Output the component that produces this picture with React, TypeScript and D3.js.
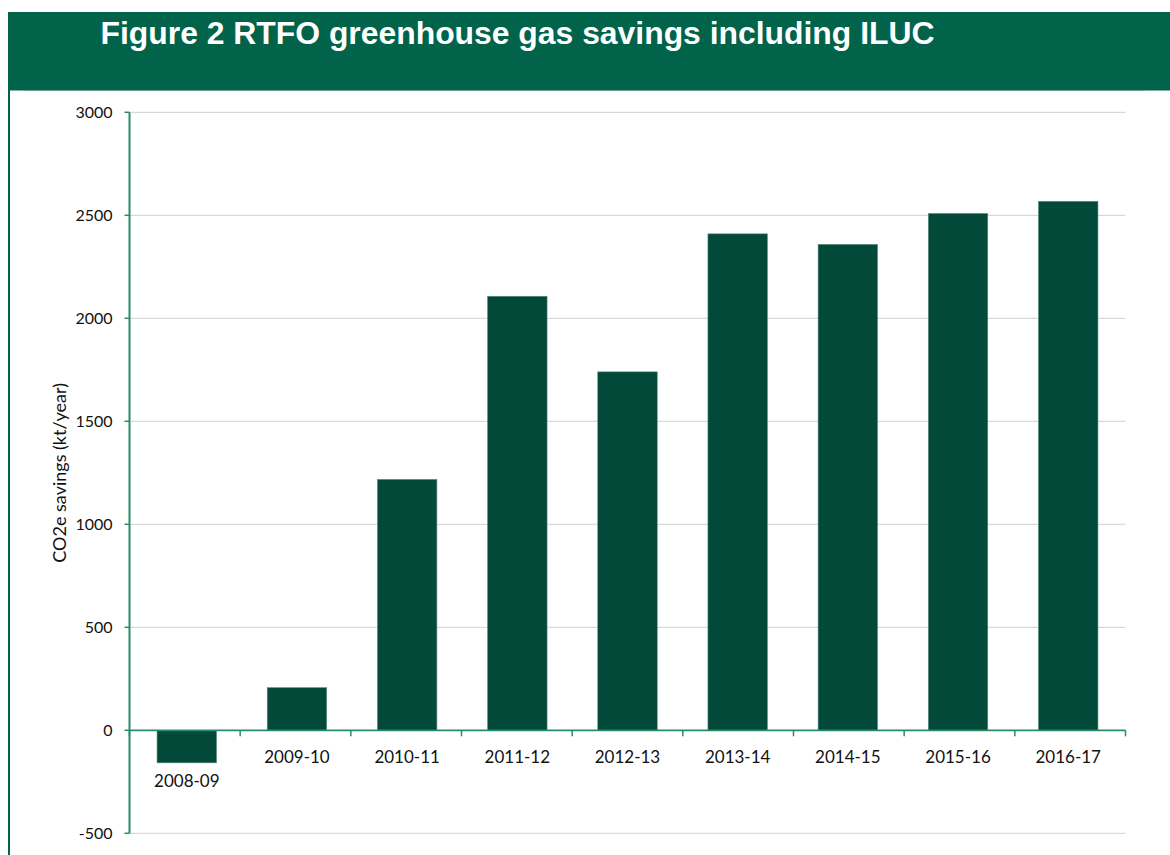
import * as d3 from 'd3';

// RTFO greenhouse gas savings including ILUC, kt CO2e per year
const years = ['2008-09', '2009-10', '2010-11', '2011-12', '2012-13', '2013-14', '2014-15', '2015-16', '2016-17'];
const savings = [-158, 207, 1218, 2107, 1740, 2410, 2359, 2509, 2568];
const yTicks = [-500, 0, 500, 1000, 1500, 2000, 2500, 3000];

const W = 1170;
const H = 855;
const header = '#00634A';
const barFill = '#02493A';
const axisColor = '#2A8A70';
const font = 'Lato, "Open Sans", sans-serif';

export default function App() {
  const left = 129.5;
  const right = 1125.5;

  const x = d3.scaleBand<string>().domain(years).range([left, right]).paddingInner(0.46).paddingOuter(0.25);
  const y = d3.scaleLinear().domain([-500, 3000]).range([833.3, 112.3]);
  const zeroY = y(0);
  const step = (right - left) / years.length;

  return (
    <svg width={W} height={H} style={{ position: 'absolute', left: 0, top: 0, background: '#fff' }}>
      {/* header band and frame */}
      <rect x={8} y={12} width={W - 8} height={78.5} fill={header} />
      <rect x={8} y={12} width={2} height={H - 12} fill={header} />
      <line x1={24} x2={1145} y1={90.5} y2={90.5} stroke="#6e9e90" strokeWidth={1} />
      <text
        x={100.5}
        y={43.5}
        fill="#fff"
        fontFamily='"Liberation Sans", Arial, sans-serif'
        fontWeight="bold"
        fontSize={31}
        textLength={834}
        lengthAdjust="spacingAndGlyphs"
      >
        Figure 2 RTFO greenhouse gas savings including ILUC
      </text>

      {/* gridlines */}
      {yTicks.filter(t => t !== 0).map(t => (
        <line key={t} x1={left} x2={right} y1={y(t)} y2={y(t)} stroke="#D9D9D9" strokeWidth={1.3} />
      ))}

      {/* bars */}
      {years.map((yr, i) => {
        const v = savings[i];
        return (
          <rect
            key={yr}
            x={x(yr)}
            y={y(Math.max(0, v))}
            width={x.bandwidth()}
            height={Math.abs(y(v) - zeroY)}
            fill={barFill}
            stroke="#5e8f82"
            strokeWidth={0.6}
          />
        );
      })}

      {/* y axis */}
      <line x1={left} x2={left} y1={y(3000)} y2={y(-500)} stroke={axisColor} strokeWidth={2} />
      {yTicks.map(t => (
        <g key={t}>
          <line x1={left - 5} x2={left} y1={y(t)} y2={y(t)} stroke={axisColor} strokeWidth={1.5} />
          <text
            x={112.5}
            y={y(t)}
            dy="0.36em"
            textAnchor="end"
            fontFamily={font}
            fontSize={16}
            fill="#111"
          >
            {t}
          </text>
        </g>
      ))}

      {/* x axis */}
      <line x1={left} x2={right} y1={zeroY} y2={zeroY} stroke={axisColor} strokeWidth={1.8} />
      {d3.range(years.length + 1).map(k => (
        <line
          key={k}
          x1={left + k * step}
          x2={left + k * step}
          y1={zeroY}
          y2={zeroY + 6}
          stroke={axisColor}
          strokeWidth={1.5}
        />
      ))}
      {years.map((yr, i) => {
        const v = savings[i];
        const base = v < 0 ? y(v) + 24.5 : zeroY + 32.5;
        return (
          <text
            key={yr}
            x={(x(yr) ?? 0) + x.bandwidth() / 2}
            y={base}
            textAnchor="middle"
            fontFamily={font}
            fontSize={17}
            fill="#111"
          >
            {yr}
          </text>
        );
      })}

      {/* y axis title */}
      <text
        transform={`translate(66,${(y(3000) + y(-500)) / 2}) rotate(-90)`}
        textAnchor="middle"
        fontFamily={font}
        fontSize={18}
        fill="#111"
      >
        CO2e savings (kt/year)
      </text>
    </svg>
  );
}
